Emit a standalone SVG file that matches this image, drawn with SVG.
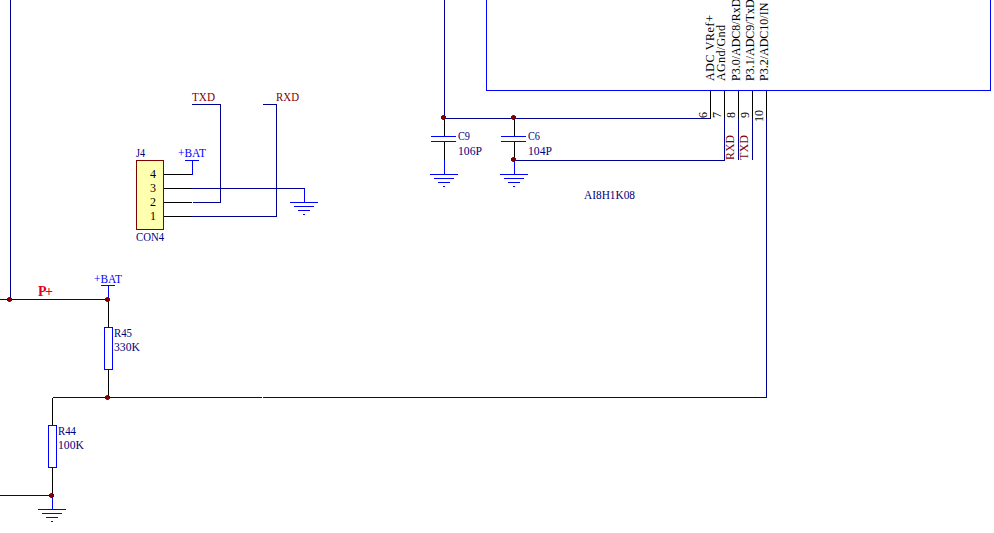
<svg xmlns="http://www.w3.org/2000/svg" width="994" height="533" viewBox="0 0 994 533">
<style>
text{font-family:"Liberation Serif","Times New Roman",serif;font-size:12px;fill:#000080}
.chip{fill:#000000}
.net{fill:#800000}
.pwr{fill:#0000ff}
.pin{fill:#000000}
.w,.b,.k{fill:none;stroke-width:1;shape-rendering:crispEdges}
.w{stroke:#000090}
.b{stroke:#0000ff}
.k{stroke:#000000}
.j{fill:#800000}
</style>
<defs>
<g id="gnd" class="b"><path d="M-14 .5H14M-10 4.500H10M-6 8.500H6M-1 12.500H1"/></g>
<path id="dot" class="j" d="M-1-2.500H1L1.500-1.500H2.500V1.500H1.500L1 2.500H-1L-1.500 1.500H-2.500V-1.500H-1.500Z"/>
</defs>
<rect width="994" height="533" fill="#ffffff"/>
<g id="connectors">
<path class="w" d="M10.500 0V299.500M0 299.500H108M52.500 397.500H262M263 397.500H766.500M0 495.500H52M444.500 0V118.500H710.500V90M514.500 160.500H724.500V118M738.500 118V160M752.500 118V160M766.500 118V397"/>
<path class="k" d="M710.500 90V118M724.500 90V118M738.500 90V118M752.500 90V118M766.500 90V118"/>
<path class="w" d="M192 104.500H220.500V202.500H193M263 104.500H276.500V216.500H192M192 188.500H304.500V202"/>
<path class="k" d="M164 174.500H192M164 188.500H192M164 202.500H192M164 216.500H192M444.500 119V136M444.500 142V174M514.500 119V136M514.500 142V160M108.500 300V327M108.500 370V397M52.500 398V425M52.500 468V495"/>
<path class="b" d="M192.500 174.500V160M108.500 286V299M52.500 496V509M444.500 174V160M514.500 174V160M304.500 188V202"/>
</g>
<g id="chip">
<rect x="486.500" y="-5" width="504" height="95.500" fill="none" stroke="#0000ff" shape-rendering="crispEdges"/>
<text class="chip" transform="translate(714 81) rotate(-90)" textLength="66">ADC VRef+</text>
<text class="chip" transform="translate(725 81) rotate(-90)" textLength="56">AGnd/Gnd</text>
<text class="chip" transform="translate(740 81) rotate(-90)">P3.0/ADC8/RxD</text>
<text class="chip" transform="translate(754 81) rotate(-90)">P3.1/ADC9/TxD</text>
<text class="chip" transform="translate(768 81) rotate(-90)">P3.2/ADC10/IN</text>
<text class="pin" transform="translate(707 118) rotate(-90)">6</text>
<text class="pin" transform="translate(721 118) rotate(-90)">7</text>
<text class="pin" transform="translate(735 118) rotate(-90)">8</text>
<text class="pin" transform="translate(749 118) rotate(-90)">9</text>
<text class="pin" transform="translate(763 122) rotate(-90)">10</text>
<text class="net" transform="translate(734 160) rotate(-90)" textLength="25" lengthAdjust="spacingAndGlyphs">RXD</text>
<text class="net" transform="translate(748 160) rotate(-90)" textLength="25" lengthAdjust="spacingAndGlyphs">TXD</text>
<text x="584" y="199" textLength="51" lengthAdjust="spacingAndGlyphs">AI8H1K08</text>
</g>
<g id="C9">
<path class="b" d="M431 136.500H456M431 141.500H456"/>
<use href="#gnd" x="444" y="174"/>
<use href="#dot" x="443.500" y="117.500"/>
<text x="458" y="140" textLength="12" lengthAdjust="spacingAndGlyphs">C9</text><text x="458" y="155" textLength="24" lengthAdjust="spacingAndGlyphs">106P</text>
</g>
<g id="C6">
<path class="b" d="M501 136.500H526M501 141.500H526"/>
<use href="#gnd" x="514" y="174"/>
<use href="#dot" x="513.500" y="117.500"/>
<use href="#dot" x="513.500" y="159.500"/>
<text x="528" y="140" textLength="12" lengthAdjust="spacingAndGlyphs">C6</text><text x="528" y="155" textLength="24" lengthAdjust="spacingAndGlyphs">104P</text>
</g>
<g id="J4">
<rect x="136.500" y="160.500" width="27" height="69" fill="#ffffb0" stroke="#800000" shape-rendering="crispEdges"/>
<text x="136" y="157" textLength="9" lengthAdjust="spacingAndGlyphs">J4</text><text x="136" y="241" textLength="28" lengthAdjust="spacingAndGlyphs">CON4</text>
<text class="pin" x="150" y="178">4</text><text class="pin" x="150" y="192">3</text><text class="pin" x="150" y="206">2</text><text class="pin" x="150" y="220">1</text>
</g>
<g id="labels">
<text class="net" x="192" y="101" textLength="23" lengthAdjust="spacingAndGlyphs">TXD</text>
<text class="net" x="276" y="101" textLength="23" lengthAdjust="spacingAndGlyphs">RXD</text>
</g>
<g id="bat1"><path class="b" d="M185 160.500H199"/><text class="pwr" x="178" y="157" textLength="28" lengthAdjust="spacingAndGlyphs">+BAT</text></g>
<g id="gnd1"><use href="#gnd" x="304" y="202"/></g>
<g id="bat2"><path class="b" d="M101 285.500H115"/><text class="pwr" x="94" y="283" textLength="28" lengthAdjust="spacingAndGlyphs">+BAT</text></g>
<g id="Pplus"><text x="38" y="296" textLength="15" style="font-size:14px;font-weight:bold;fill:#e00020">P+</text></g>
<g id="R45">
<rect x="104.500" y="327.500" width="8" height="42" fill="none" stroke="#0000ff" shape-rendering="crispEdges"/>
<use href="#dot" x="107.500" y="299.500"/><use href="#dot" x="107.500" y="397.500"/>
<use href="#dot" x="9.500" y="299.500"/>
<text x="114" y="337" textLength="18" lengthAdjust="spacingAndGlyphs">R45</text><text x="114" y="351" textLength="26" lengthAdjust="spacingAndGlyphs">330K</text>
</g>
<g id="R44">
<rect x="48.500" y="425.500" width="8" height="42" fill="none" stroke="#0000ff" shape-rendering="crispEdges"/>
<use href="#dot" x="51.500" y="495.500"/>
<use href="#gnd" x="52" y="509"/>
<text x="58" y="435" textLength="18" lengthAdjust="spacingAndGlyphs">R44</text><text x="58" y="449" textLength="26" lengthAdjust="spacingAndGlyphs">100K</text>
</g>
</svg>
